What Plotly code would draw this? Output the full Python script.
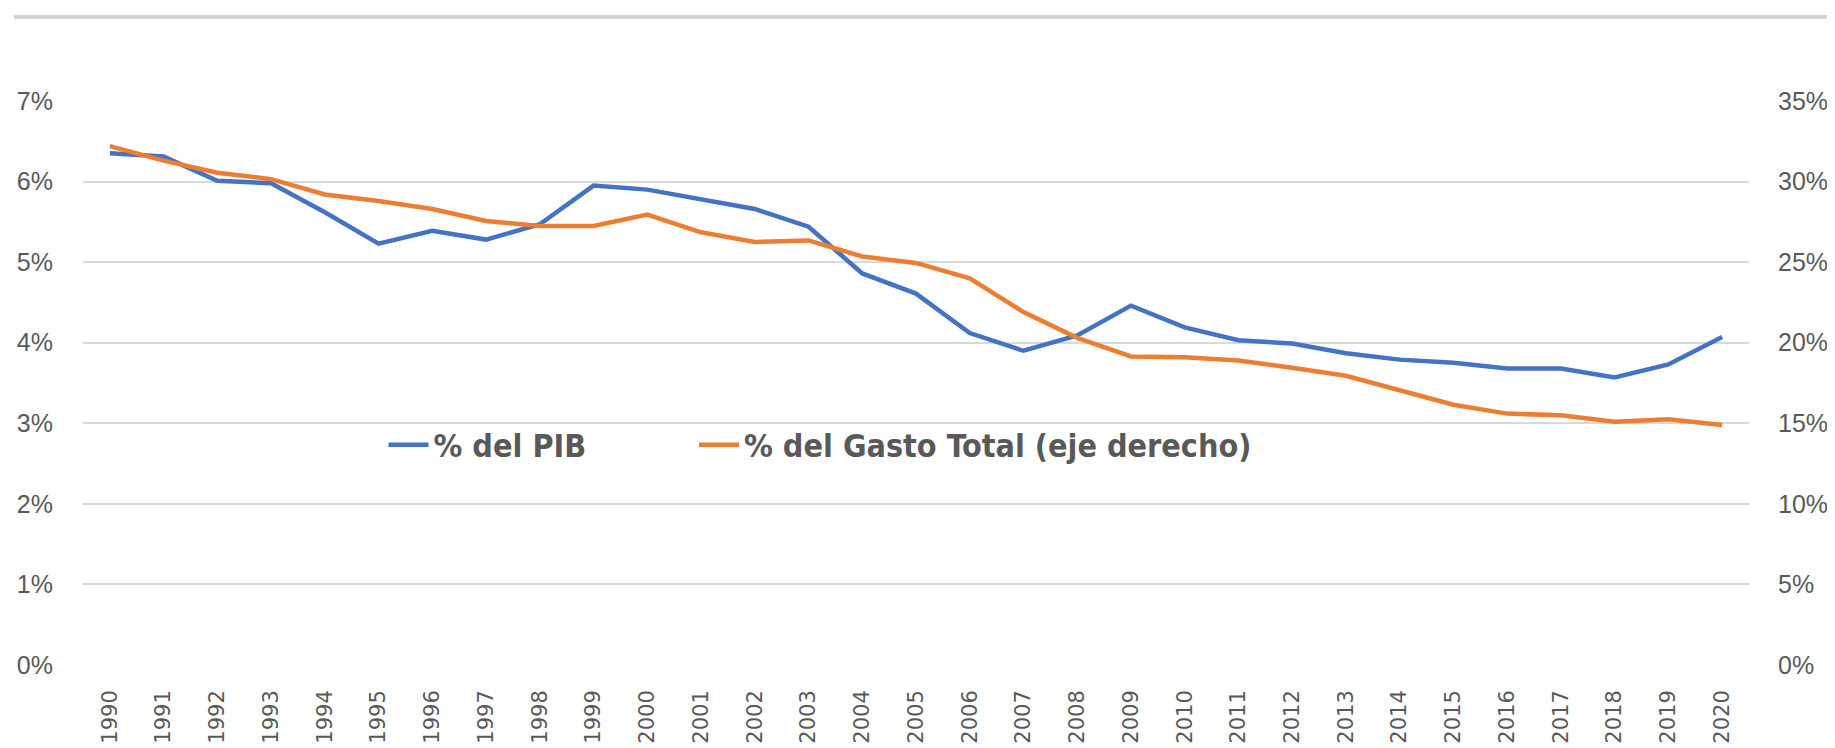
import plotly.graph_objects as go

years = [str(y) for y in range(1990, 2021)]

pct_pib = [6.35, 6.31, 6.01, 5.98, 5.62, 5.23, 5.39, 5.28, 5.47, 5.95,
           5.90, 5.78, 5.66, 5.44, 4.86, 4.61, 4.12, 3.90, 4.09, 4.46,
           4.19, 4.03, 3.99, 3.87, 3.79, 3.75, 3.68, 3.68, 3.57, 3.73, 4.07]

pct_gasto = [32.2, 31.3, 30.55, 30.15, 29.2, 28.8, 28.3, 27.55, 27.25, 27.25,
             27.95, 26.85, 26.25, 26.35, 25.35, 24.95, 24.0, 21.9, 20.3, 19.15,
             19.1, 18.9, 18.45, 17.95, 17.05, 16.15, 15.6, 15.5, 15.1, 15.25, 14.9]

left_ticks = [0, 1, 2, 3, 4, 5, 6, 7]
right_ticks = [0, 5, 10, 15, 20, 25, 30, 35]
left_labels = [f"{v}%" for v in left_ticks]
right_labels = [f"{v}%" for v in right_ticks]

BLUE = "#4472C4"
ORANGE = "#ED7D31"
GRAY_TXT = "#595959"
GRID = "#D9D9D9"
TICK_FONT = "Liberation Sans, Arial, sans-serif"
XTICK_FONT = "DejaVu Sans, sans-serif"
LEG_FONT = "Liberation Sans Narrow, DejaVu Sans Condensed, Liberation Sans, sans-serif"

fig = go.Figure()
fig.add_trace(go.Scatter(
    x=years, y=pct_pib, name="% del PIB", mode="lines",
    line=dict(color=BLUE, width=4.5), yaxis="y", legend="legend"))
fig.add_trace(go.Scatter(
    x=years, y=pct_gasto, name="% del Gasto Total (eje derecho)", mode="lines",
    line=dict(color=ORANGE, width=4.5), yaxis="y2", legend="legend2"))

# page body has an 8px margin; figure coordinates are screen minus 8
W, H = 1827, 740
ml, mr, mt, mb = 75, 86, 93, 83
pw = W - ml - mr
ph = H - mt - mb
plot_bottom = H - mb

leg_font = dict(family=LEG_FONT, size=32, color=GRAY_TXT, weight="bold")
leg_y = (plot_bottom - 437) / ph

fig.update_layout(
    width=W, height=H,
    margin=dict(l=ml, r=mr, t=mt, b=mb, autoexpand=False),
    paper_bgcolor="white", plot_bgcolor="white",
    showlegend=True,
    legend=dict(orientation="h", x=300.5 / pw, xanchor="left",
                y=leg_y, yanchor="middle",
                font=leg_font, bgcolor="rgba(0,0,0,0)", itemwidth=40,
                tracegroupgap=0),
    legend2=dict(orientation="h", x=611 / pw, xanchor="left",
                 y=leg_y, yanchor="middle",
                 font=leg_font, bgcolor="rgba(0,0,0,0)", itemwidth=40,
                 tracegroupgap=0),
    xaxis=dict(type="category", categoryorder="array", categoryarray=years,
               range=[-0.5, len(years) - 0.5],
               tickangle=-90, showgrid=False, showline=False, zeroline=False,
               ticks="", tickfont=dict(family=XTICK_FONT, size=21, color=GRAY_TXT),
               ticklabelstandoff=20),
    yaxis=dict(range=[0, 7], tickmode="array", tickvals=left_ticks, ticktext=left_labels,
               showgrid=True, gridcolor=GRID, gridwidth=1.5, zeroline=False,
               showline=False, ticks="",
               tickfont=dict(family=TICK_FONT, size=25, color=GRAY_TXT),
               ticklabelstandoff=29),
    yaxis2=dict(range=[0, 35], tickmode="array", tickvals=right_ticks, ticktext=right_labels,
                overlaying="y", side="right", showgrid=False, zeroline=False,
                showline=False, ticks="",
                tickfont=dict(family=TICK_FONT, size=25, color=GRAY_TXT),
                ticklabelstandoff=28),
    shapes=[dict(type="line", xref="paper", yref="paper",
                 x0=(6 - ml) / pw, x1=(1825 - ml) / pw,
                 y0=(plot_bottom - 9) / ph, y1=(plot_bottom - 9) / ph,
                 line=dict(color="#D4D4D4", width=4))],
)

fig.write_html("out.html")
